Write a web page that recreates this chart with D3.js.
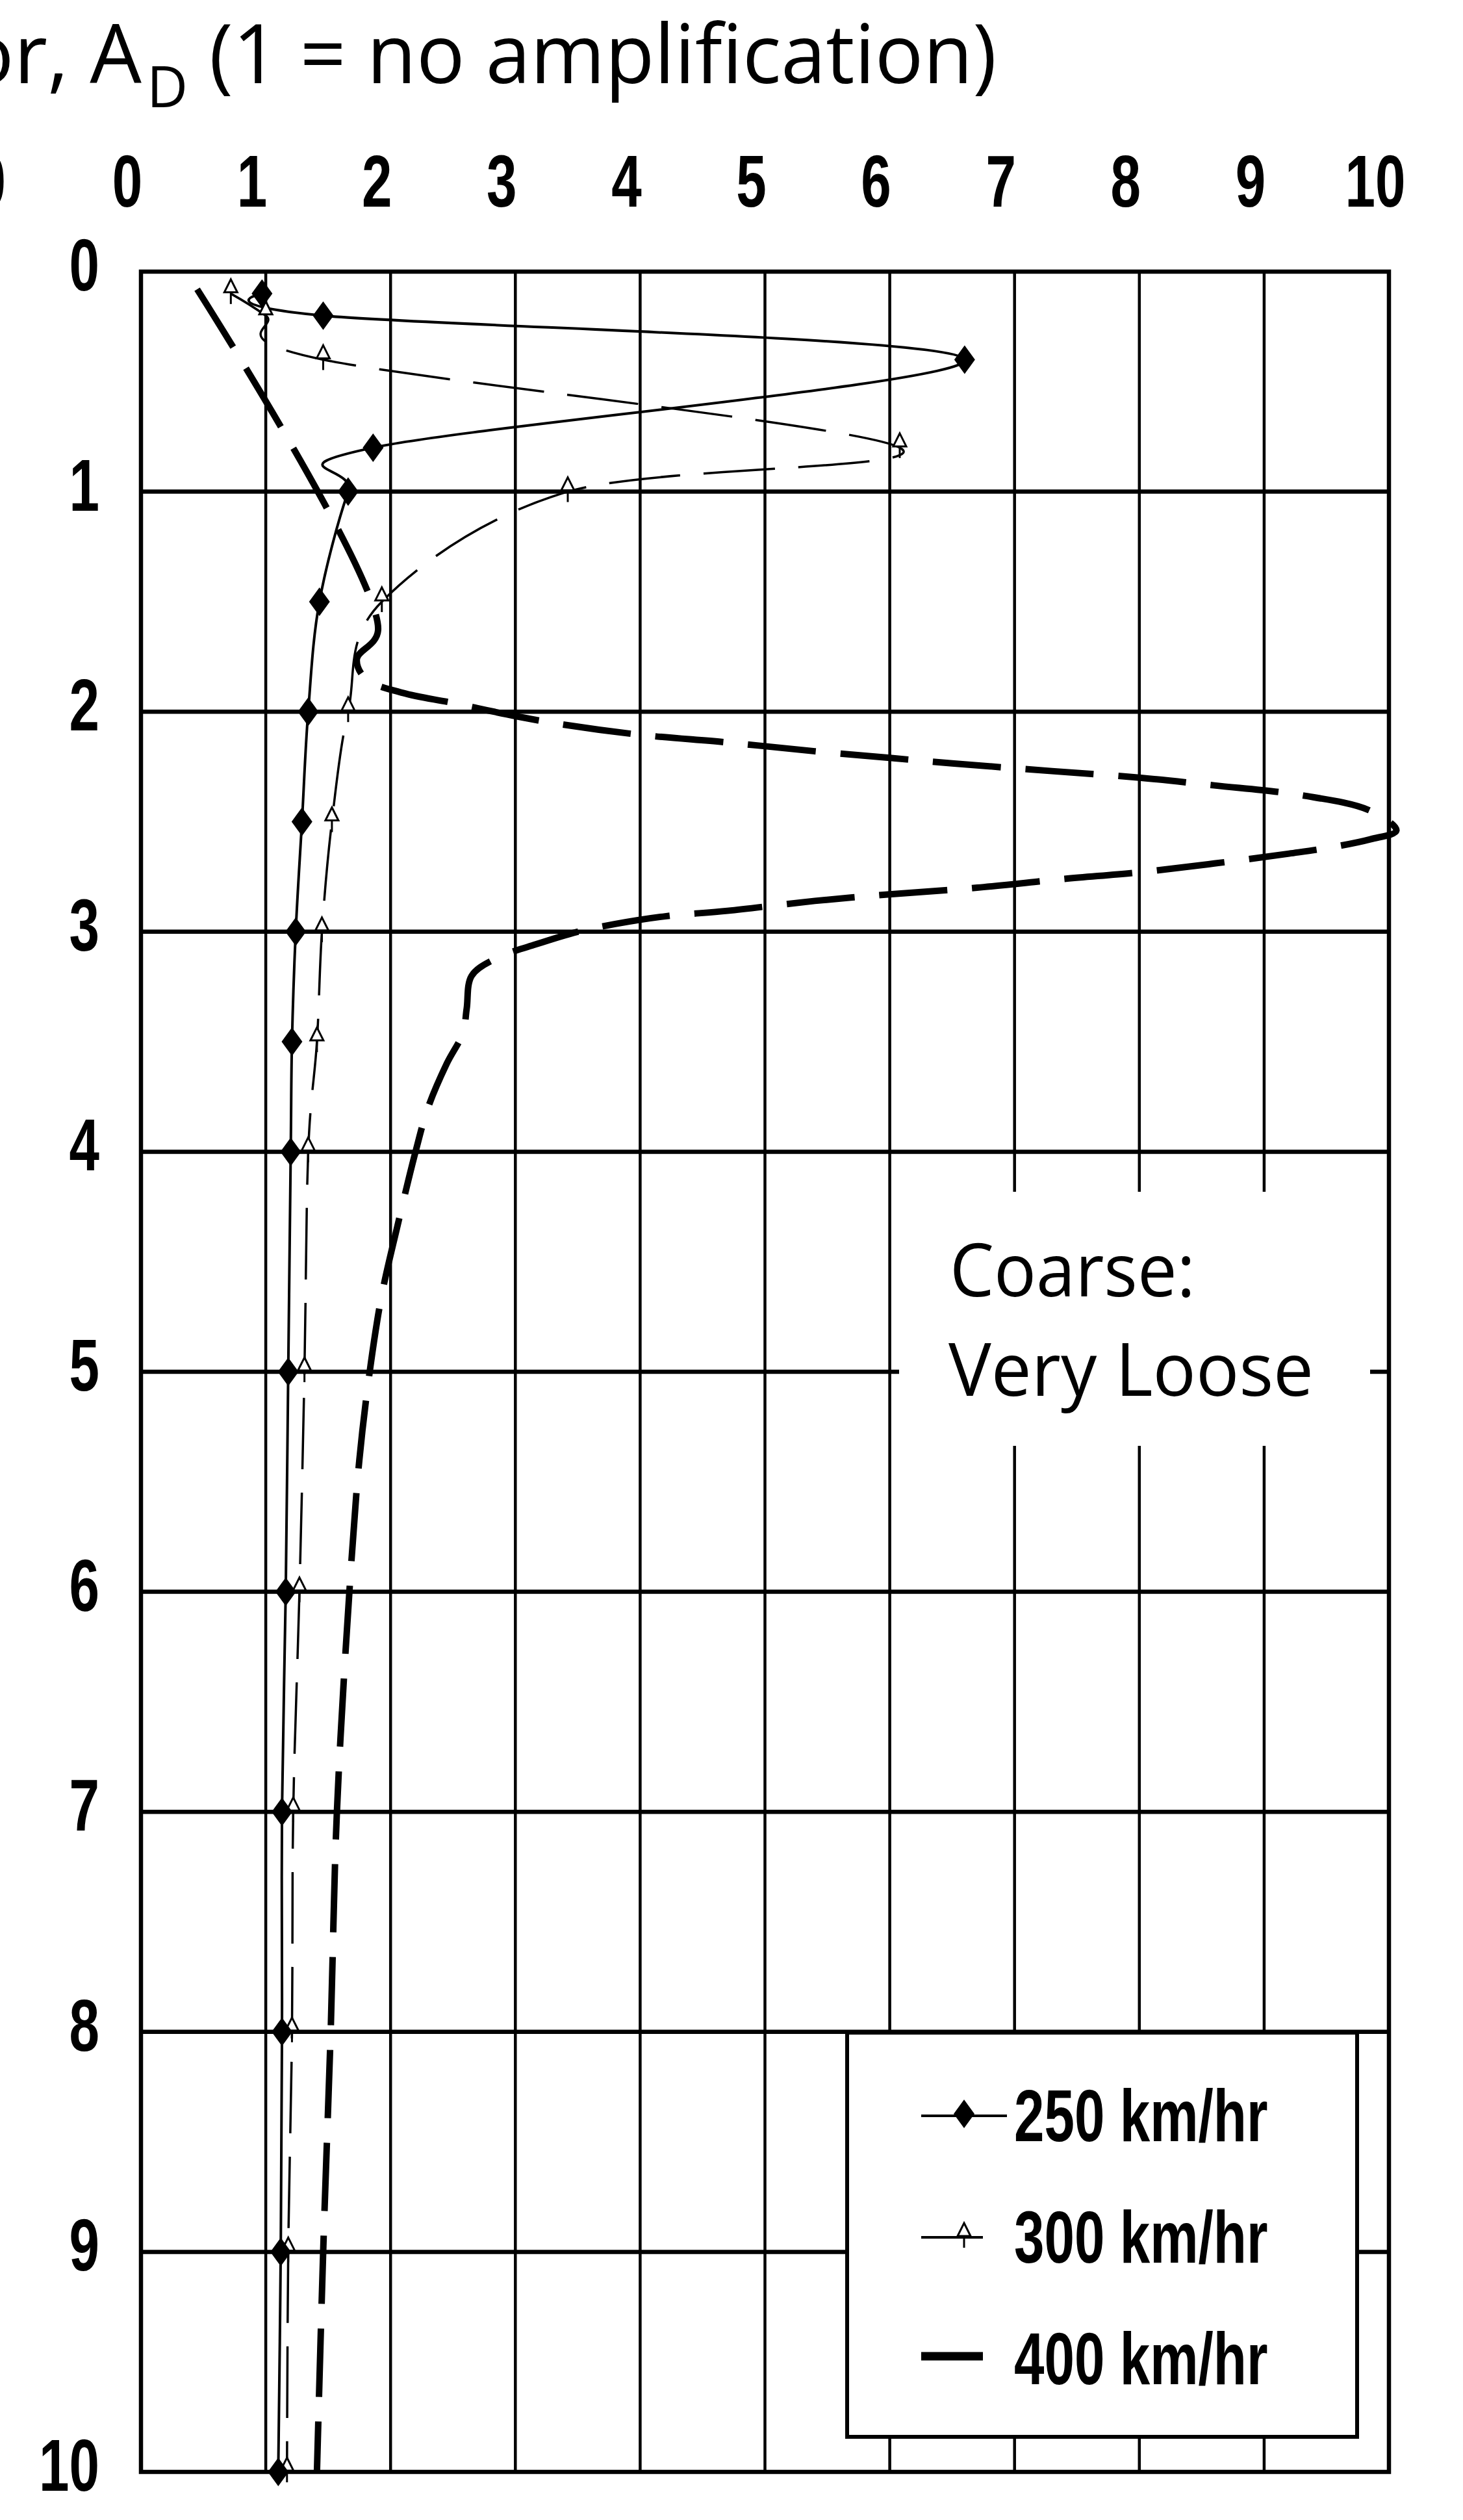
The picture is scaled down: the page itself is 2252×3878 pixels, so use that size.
<!DOCTYPE html>
<html><head><meta charset="utf-8">
<script src="https://cdn.jsdelivr.net/npm/d3@7"></script>
<style>html,body{margin:0;padding:0;background:#fff}svg{display:block}</style>
</head><body>
<svg id="chart" width="2252" height="3878"></svg>
<script>
// ---------- data ----------
const adTicks = [0,1,2,3,4,5,6,7,8,9,10];
const depthTicks = [0,1,2,3,4,5,6,7,8,9,10];
const seriesNames = ["250 km/hr","300 km/hr","400 km/hr"];

const depth250 = [0.1,0.2,0.4,0.8,1.0,1.5,2.0,2.5,3.0,3.5,4.0,5,6,7,8,9,10];
const ad250    = [0.97,1.46,6.6,1.86,1.66,1.43,1.34,1.29,1.24,1.21,1.20,1.18,1.16,1.13,1.13,1.12,1.10];

const depth300 = [0.1,0.2,0.4,0.8,1.0,1.5,2.0,2.5,3.0,3.5,4.0,5,6,7,8,9,10];
const ad300    = [0.72,1.00,1.46,6.08,3.42,1.93,1.66,1.53,1.45,1.41,1.34,1.31,1.27,1.22,1.21,1.18,1.17];

const depth400 = [0.08,1.63,1.76,1.85,1.915,1.96,2.02,2.06,2.105,2.14,2.18,2.21,2.235,2.27,2.30,2.335,2.38,2.45,2.54,
                  2.58,2.62,2.645,2.69,2.73,2.76,2.80,2.83,2.86,2.905,2.93,2.965,3.0,3.06,3.12,3.2,3.35,3.46,3.6,3.8,
                  4.0,4.35,4.65,4.97,5.4,6.0,7.0,8.0,9.0,10.0];
const ad400    = [0.45,1.90,1.73,1.80,2.10,2.50,3.00,3.40,4.00,4.70,5.40,6.00,6.50,7.30,8.00,8.60,9.30,9.85,10.06,
                  9.85,9.50,9.20,8.60,8.00,7.40,6.70,6.00,5.40,4.70,4.20,3.80,3.50,3.15,2.85,2.65,2.61,2.58,2.45,2.30,
                  2.20,2.05,1.93,1.84,1.75,1.67,1.57,1.52,1.46,1.41];

// ---------- setup ----------
const svg = d3.select("#chart");
const x = d3.scaleLinear().domain([0,10]).range([217,2138]);
const y = d3.scaleLinear().domain([0,10]).range([418,3804]);
const tickFont = "'Liberation Sans', Arial, sans-serif";
const textFont = "'Open Sans', 'Noto Sans', sans-serif";
const SX = 0.74;

// title (partly cut off at left edge)
svg.append("text").attr("x",218).attr("y",128).attr("text-anchor","end")
  .attr("font-family",textFont).attr("font-size",126).attr("fill","#000")
  .text("Amplification factor, A");
svg.append("text").attr("x",226).attr("y",165)
  .attr("font-family",textFont).attr("font-size",87).attr("fill","#000").text("D");
svg.append("text").attr("x",322).attr("y",128)
  .attr("font-family",textFont).attr("font-size",126).attr("fill","#000")
  .attr("textLength",1212).attr("lengthAdjust","spacingAndGlyphs")
  .text("(1 = no amplification)");

// cut-off label from neighbouring panel
svg.append("text").attr("transform",`translate(9,318) scale(${SX},1)`).attr("text-anchor","end")
  .attr("font-family",tickFont).attr("font-weight","bold").attr("font-size",113).text("10");

// x tick labels (top)
svg.append("g").selectAll("text").data(adTicks).join("text")
  .attr("transform",d=>`translate(${x(d)-21},318) scale(${SX},1)`)
  .attr("text-anchor","middle").attr("font-family",tickFont).attr("font-weight","bold")
  .attr("font-size",113).text(d=>d);

// y tick labels
svg.append("g").selectAll("text").data(depthTicks).join("text")
  .attr("transform",d=>`translate(153,${y(d)+29}) scale(${SX},1)`)
  .attr("text-anchor","end").attr("font-family",tickFont).attr("font-weight","bold")
  .attr("font-size",113).text(d=>d);

// gridlines
const grid = svg.append("g");
grid.selectAll("line.v").data(adTicks.slice(1,-1)).join("line").attr("class","v")
  .attr("x1",d=>x(d)).attr("x2",d=>x(d)).attr("y1",y(0)).attr("y2",y(10))
  .attr("stroke","#000").attr("stroke-width",4.5);
grid.selectAll("line.h").data(depthTicks.slice(1,-1)).join("line").attr("class","h")
  .attr("x1",x(0)).attr("x2",x(10)).attr("y1",d=>y(d)).attr("y2",d=>y(d))
  .attr("stroke","#000").attr("stroke-width",6.5);
svg.append("rect").attr("x",x(0)).attr("y",y(0)).attr("width",x(10)-x(0)).attr("height",y(10)-y(0))
  .attr("fill","none").attr("stroke","#000").attr("stroke-width",6.5);

// annotation box
svg.append("rect").attr("x",1384).attr("y",1834).attr("width",725).attr("height",391).attr("fill","#fff");
svg.append("text").attr("x",1462).attr("y",1995).attr("font-family",textFont).attr("font-size",113)
  .attr("textLength",378).attr("lengthAdjust","spacingAndGlyphs").text("Coarse:");
svg.append("text").attr("x",1460).attr("y",2148).attr("font-family",textFont).attr("font-size",113)
  .attr("textLength",562).attr("lengthAdjust","spacingAndGlyphs").text("Very Loose");

// series
const zip = (ds,as)=>ds.map((d,i)=>({d, a: as[i]}));
const s250 = zip(depth250, ad250), s300 = zip(depth300, ad300), s400 = zip(depth400, ad400);
const lineCard = d3.line().x(p=>x(p.a)).y(p=>y(p.d)).curve(d3.curveCardinal.tension(0));
const lineCR = d3.line().x(p=>x(p.a)).y(p=>y(p.d)).curve(d3.curveCatmullRom.alpha(0.5));

svg.append("path").attr("d",lineCR(s400)).attr("fill","none").attr("stroke","#000")
  .attr("stroke-width",10).attr("stroke-dasharray","105,38");
svg.append("path").attr("d",lineCard(s300)).attr("fill","none").attr("stroke","#000")
  .attr("stroke-width",3.5).attr("stroke-dasharray","110,36");
svg.append("path").attr("d",lineCard(s250)).attr("fill","none").attr("stroke","#000")
  .attr("stroke-width",4);

const diamond = "M0,-22L16,0L0,22L-16,0Z";
const tri = "M0,-22L10,-2L-10,-2Z";
const triStem = "M0,-2L0,16";
function drawTri(g){
  g.append("path").attr("d",tri).attr("fill","#fff").attr("stroke","#000").attr("stroke-width",3);
  g.append("path").attr("d",triStem).attr("fill","none").attr("stroke","#000").attr("stroke-width",3);
}
svg.append("g").selectAll("g").data(s300).join("g")
  .attr("transform",p=>`translate(${x(p.a)},${y(p.d)})`).each(function(){drawTri(d3.select(this));});
svg.append("g").selectAll("path").data(s250).join("path")
  .attr("transform",p=>`translate(${x(p.a)},${y(p.d)})`).attr("d",diamond).attr("fill","#000");

// legend
const lg = svg.append("g");
lg.append("rect").attr("x",1304).attr("y",3128).attr("width",785).attr("height",622)
  .attr("fill","#fff").attr("stroke","#000").attr("stroke-width",6);
const rows = [3256,3443,3626];
lg.append("line").attr("x1",1418).attr("x2",1550).attr("y1",rows[0]).attr("y2",rows[0]).attr("stroke","#000").attr("stroke-width",4);
lg.append("path").attr("transform",`translate(1484,${rows[0]-3})`).attr("d",diamond).attr("fill","#000");
lg.append("line").attr("x1",1418).attr("x2",1513).attr("y1",rows[1]).attr("y2",rows[1]).attr("stroke","#000").attr("stroke-width",4);
drawTri(lg.append("g").attr("transform",`translate(1484,${rows[1]})`));
lg.append("line").attr("x1",1418).attr("x2",1513).attr("y1",rows[2]).attr("y2",rows[2]).attr("stroke","#000").attr("stroke-width",13);
lg.selectAll("text").data(seriesNames).join("text")
  .attr("transform",(d,i)=>`translate(1561,${rows[i]+39 + (i===2?4:0)}) scale(${SX},1)`)
  .attr("font-family",tickFont).attr("font-weight","bold").attr("font-size",113).text(d=>d);
</script>
</body></html>
